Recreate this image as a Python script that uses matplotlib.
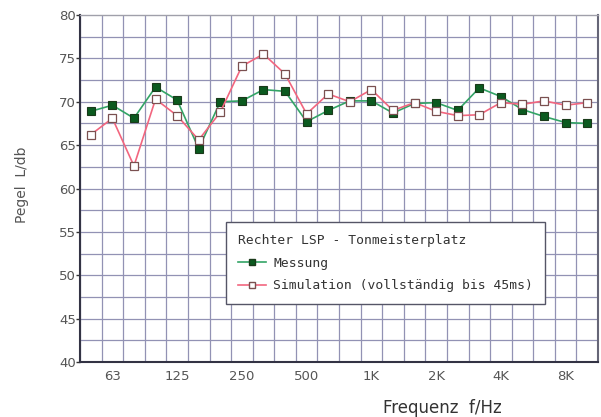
import matplotlib
matplotlib.use("Agg")
import matplotlib.pyplot as plt
import numpy as np
from matplotlib.lines import Line2D

bands = ["50", "63", "80", "100", "125", "160", "200", "250", "315", "400",
         "500", "630", "800", "1K", "1.25K", "1.6K", "2K", "2.5K", "3.15K",
         "4K", "5K", "6.3K", "8K", "10K"]
tick_labels = ["63", "125", "250", "500", "1K", "2K", "4K", "8K"]

messung = [68.9, 69.6, 68.1, 71.7, 70.2, 64.6, 70.0, 70.1, 71.4, 71.2,
           67.7, 69.0, 70.1, 70.1, 68.7, 69.8, 69.9, 69.0, 71.6, 70.6,
           69.1, 68.3, 67.6, 67.5]
simulation = [66.2, 68.1, 62.6, 70.3, 68.4, 65.6, 68.8, 74.1, 75.5, 73.2,
              68.6, 70.9, 70.0, 71.4, 69.0, 69.9, 68.9, 68.4, 68.5, 69.9,
              69.7, 70.1, 69.6, 69.9]

fig = plt.figure(figsize=(6.01, 4.17), dpi=100)
ax = fig.add_axes([80/601, 1-362/417, (598-80)/601, (362-15)/417])

x = np.arange(len(bands))
grid_c = "#9292b4"
for b in np.arange(-0.5, len(bands), 1.0):
    ax.axvline(b, color=grid_c, lw=0.9, zorder=1)
for yv in np.arange(42.5, 80, 2.5):
    ax.axhline(yv, color=grid_c, lw=0.9, zorder=1)

ax.plot(x, messung, color="#33a466", lw=1.2, marker="s", ms=5.5,
        mfc="#0b5a1f", mec="#1a3a1a", mew=0.8, zorder=3)
ax.plot(x, simulation, color="#f2667f", lw=1.2, marker="s", ms=5.5,
        mfc="white", mec="#7a5050", mew=0.9, zorder=4)

ax.set_xlim(-0.5, len(bands) - 0.5)
ax.set_ylim(40, 80)
ax.set_yticks(np.arange(40, 81, 5))
ax.set_yticklabels([str(v) for v in range(40, 81, 5)])
ax.set_xticks([bands.index(t) for t in tick_labels])
ax.set_xticklabels(tick_labels)
ax.tick_params(axis="y", length=3, width=1, color="#333333", labelsize=9.5,
               labelcolor="#555555", pad=0)
ax.tick_params(axis="x", length=0, labelsize=9.5, labelcolor="#555555", pad=6)

for s in ["left", "bottom"]:
    ax.spines[s].set_color("#333344")
    ax.spines[s].set_linewidth(1.5)
ax.spines["top"].set_color("#a0a0aa")
ax.spines["top"].set_linewidth(1.0)
ax.spines["right"].set_color("#666677")
ax.spines["right"].set_linewidth(1.5)

fig.text(22/601, 1-185/417, "Pegel  L/db", rotation=90, ha="center",
         va="center", fontsize=10, color="#555555")
fig.text(442/601, 1-408/417, "Frequenz  f/Hz", ha="center", va="center",
         fontsize=12, color="#333333")

handles = [
    Line2D([], [], color="#33a466", lw=1.2, marker="s", ms=5,
           mfc="#0b5a1f", mec="#1a3a1a"),
    Line2D([], [], color="#f2667f", lw=1.2, marker="s", ms=5,
           mfc="white", mec="#7a5050"),
]
fp = {"family": "DejaVu Sans Mono", "size": 9.4}
leg = ax.legend(handles, ["Messung", "Simulation (vollständig bis 45ms)"],
                title="Rechter LSP - Tonmeisterplatz",
                loc="upper left", bbox_to_anchor=((226-80)/518, (362-222)/347),
                frameon=True, fancybox=False, framealpha=1,
                edgecolor="#555566", prop=fp, title_fontproperties=fp,
                handlelength=2.2, handletextpad=0.5, borderpad=0.9,
                labelspacing=0.75, borderaxespad=0)
leg._legend_box.align = "left"
leg.get_frame().set_linewidth(1.0)
for t in leg.get_texts():
    t.set_color("#333333")
leg.get_title().set_color("#333333")
leg.set_zorder(10)

fig.savefig("out.png", dpi=100)
